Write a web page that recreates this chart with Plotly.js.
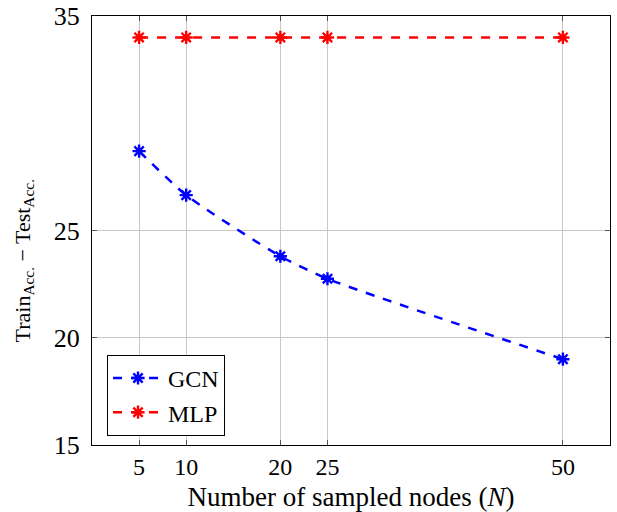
<!DOCTYPE html>
<html>
<head>
<meta charset="utf-8">
<script src="https://cdn.plot.ly/plotly-3.0.1.min.js"></script>
<style>html,body{margin:0;padding:0;background:#fff;}#chart{width:617px;height:512px;}</style>
</head>
<body>
<div id="chart"></div>
<script>
const sampledNodes = [5, 10, 20, 25, 50];
const gcnGap = [28.7, 26.65, 23.8, 22.75, 19.0];
const mlpGap = [34.0, 34.0, 34.0, 34.0, 34.0];
const xTicks = [5, 10, 20, 25, 50];
const yTicks = [15, 20, 25, 35];

const serif = "'Liberation Serif', 'DejaVu Serif', serif";

const traces = [
  {
    x: sampledNodes, y: gcnGap, name: "GCN", type: "scatter", mode: "lines+markers",
    line: {color: "#0000ff", width: 2.5, dash: "dash", shape: "spline", smoothing: 0.6},
    marker: {symbol: "asterisk-open", size: 11, color: "#0000ff", line: {color: "#0000ff", width: 2.4}}
  },
  {
    x: sampledNodes, y: mlpGap, name: "MLP", type: "scatter", mode: "lines+markers",
    line: {color: "#ff0000", width: 2.5, dash: "dash"},
    marker: {symbol: "asterisk-open", size: 11, color: "#ff0000", line: {color: "#ff0000", width: 2.4}}
  }
];

const layout = {
  width: 617, height: 512,
  margin: {l: 92, r: 7, t: 16, b: 67},
  paper_bgcolor: "#fff", plot_bgcolor: "#fff",
  font: {family: serif, color: "#000", size: 24},
  showlegend: true,
  legend: {
    x: 0.029, y: 0.21, xanchor: "left", yanchor: "top",
    bordercolor: "#000", borderwidth: 1, bgcolor: "#fff",
    font: {family: serif, size: 24}, tracegroupgap: 0, itemwidth: 50
  },
  xaxis: {
    range: [0, 55], tickvals: xTicks, ticktext: xTicks.map(String),
    showgrid: true, gridcolor: "#c8c8c8", gridwidth: 1,
    showline: true, linecolor: "#000", linewidth: 1, mirror: "ticks",
    ticks: "inside", ticklen: 5, tickcolor: "#555",
    zeroline: false, tickfont: {family: serif, size: 24},
    title: {text: "Number of sampled nodes (<i>N</i>)", font: {family: serif, size: 27}, standoff: 8}
  },
  yaxis: {
    range: [15, 35], tickvals: yTicks, ticktext: yTicks.map(String),
    showgrid: true, gridcolor: "#c8c8c8", gridwidth: 1,
    showline: true, linecolor: "#000", linewidth: 1, mirror: "ticks",
    ticks: "inside", ticklen: 5, tickcolor: "#555", ticklabelstandoff: 6,
    zeroline: false, tickfont: {family: serif, size: 26},
    title: {text: "Train<sub>Acc.</sub> − Test<sub>Acc.</sub>" + "&nbsp;".repeat(11), font: {family: serif, size: 22}, standoff: 17}
  }
};

Plotly.newPlot("chart", traces, layout, {displayModeBar: false, staticPlot: true});
</script>
</body>
</html>
